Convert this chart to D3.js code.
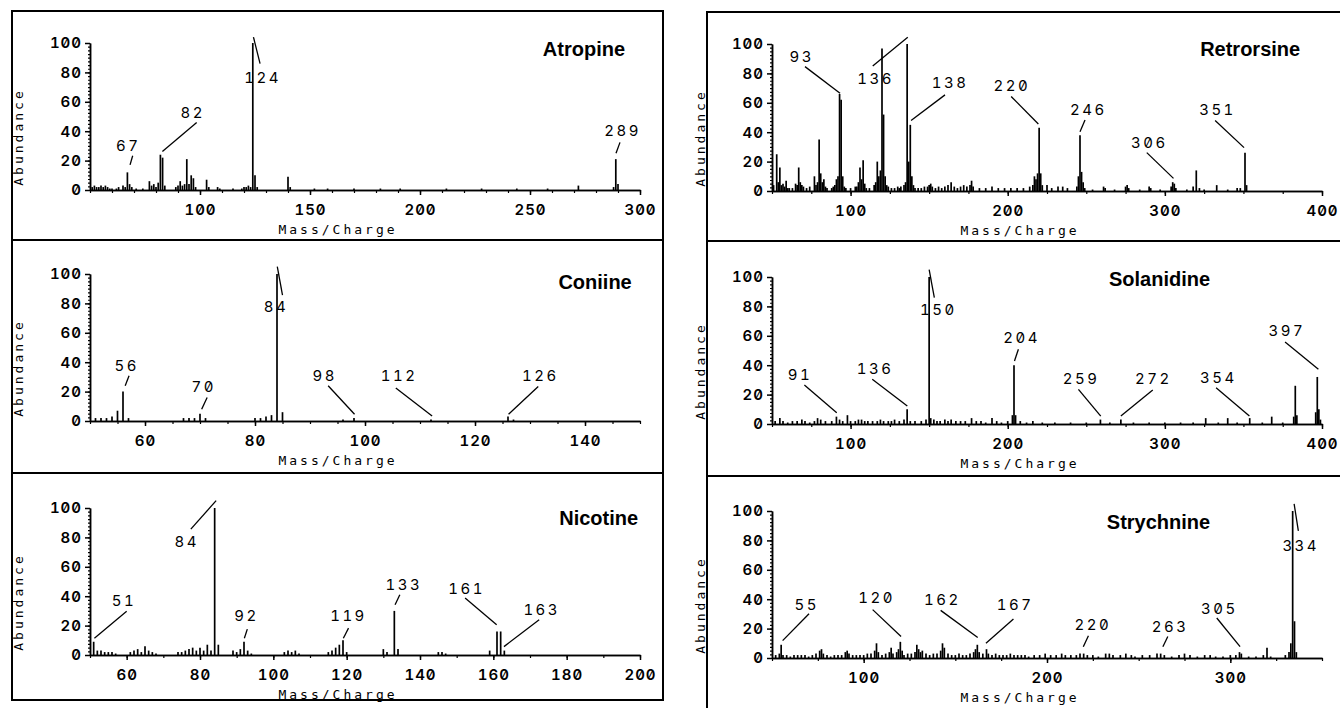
<!DOCTYPE html>
<html>
<head>
<meta charset="utf-8">
<script src="https://cdn.jsdelivr.net/npm/d3@7"></script>
<style>
  body { margin: 0; background: #fff; }
  svg { display: block; }
  .axis path, .axis line { stroke: #000; stroke-width: 1.5; }
  .axis text { font-family: Inter, "DejaVu Sans Mono", monospace; font-weight: 600; font-size: 15px; fill: #000;
               font-feature-settings: "zero" 1, "tnum" 1; letter-spacing: 1px; }
  .minor text { display: none; }
  .minor line { stroke-width: 1.2; }
  .peak { stroke: #000; stroke-width: 1.7; }
  .lead { stroke: #000; stroke-width: 1.3; fill: none; }
  .plab { font-family: Inter, "DejaVu Sans Mono", monospace; font-size: 15px; letter-spacing: 2.5px;
          font-feature-settings: "zero" 1, "tnum" 1; }
  .title { font-family: "Liberation Sans", Arial, sans-serif; font-weight: bold; font-size: 20px; }
  .alab { font-family: "DejaVu Sans Mono", monospace; font-size: 13px; letter-spacing: 3px; }
</style>
</head>
<body>
<svg width="1340" height="708"></svg>
<script>
// compound names, in panel order (left column then right column)
var names = ["Atropine", "Coniine", "Nicotine", "Retrorsine", "Solanidine", "Strychnine"];

// spectra: [m/z, relative abundance]
var atropine = [[51,2],[52,3],[53,2],[54,2],[55,3],[56,2],[57,3],[58,2],[59,1],[60,1],[62,1],[63,2],[65,3],[66,2],[67,12],[68,4],[69,2],[71,1],[74,1],[77,6],[78,3],[79,4],[80,2],[81,5],[82,24],[83,22],[84,3],[89,2],[90,3],[91,6],[92,3],[93,4],[94,21],[95,4],[96,10],[97,8],[98,2],[103,7],[104,2],[108,2],[109,1],[115,1],[119,1],[120,2],[121,2],[122,3],[123,2],[124,100],[125,10],[126,2],[140,9],[141,2],[152,1],[158,1],[170,1],[182,1],[191,1],[212,1],[228,1],[244,1],[258,1],[272,3],[288,2],[289,21],[290,4]];
var coniine = [[51,2],[52,2],[53,2],[54,3],[55,7],[56,20],[57,2],[67,2],[68,2],[69,2],[70,5],[71,2],[80,2],[81,2],[82,3],[83,4],[84,100],[85,6],[96,1],[98,2],[112,1],[126,3],[127,1]];
var nicotine = [[51,9],[52,3],[53,3],[54,2],[55,2],[56,2],[57,1],[61,2],[62,3],[63,4],[64,2],[65,6],[66,3],[67,2],[68,1],[74,2],[75,2],[76,3],[77,4],[78,5],[79,3],[80,5],[81,3],[82,7],[83,3],[84,100],[85,7],[89,3],[90,2],[91,4],[92,9],[93,3],[94,1],[103,2],[104,3],[105,2],[106,3],[107,1],[115,2],[116,3],[117,5],[118,7],[119,10],[120,2],[130,4],[131,2],[133,30],[134,4],[145,2],[146,2],[147,1],[159,3],[161,16],[162,16],[163,3]];
var retrorsine = [[51,4],[53,25],[54,6],[55,16],[56,4],[57,5],[58,3],[59,7],[60,2],[61,2],[63,2],[65,5],[66,4],[67,16],[68,6],[69,4],[70,3],[72,2],[74,3],[77,10],[78,4],[79,6],[80,35],[81,12],[82,6],[83,8],[84,3],[85,2],[88,2],[89,3],[90,4],[91,8],[92,10],[93,66],[94,62],[95,10],[96,3],[97,2],[100,2],[103,3],[104,3],[105,6],[106,16],[107,8],[108,21],[109,5],[110,2],[112,2],[115,4],[116,6],[117,20],[118,10],[119,14],[120,97],[121,52],[122,10],[123,4],[124,3],[126,2],[128,2],[130,3],[131,2],[132,3],[134,4],[135,6],[136,100],[137,20],[138,45],[139,10],[140,4],[141,2],[143,2],[145,2],[147,3],[149,3],[150,4],[151,5],[152,3],[154,2],[156,3],[158,2],[160,3],[162,4],[164,6],[166,3],[168,2],[170,3],[172,4],[174,3],[176,4],[177,7],[178,3],[182,2],[186,2],[190,3],[194,2],[198,2],[202,2],[206,2],[210,2],[214,3],[216,4],[217,10],[218,8],[219,12],[220,43],[221,12],[222,4],[225,4],[228,2],[232,3],[235,3],[238,2],[244,3],[245,10],[246,38],[247,13],[248,6],[249,2],[254,1],[261,3],[262,2],[268,1],[275,3],[276,4],[277,2],[284,1],[290,3],[291,2],[297,1],[304,3],[305,6],[306,5],[307,2],[314,1],[318,3],[320,14],[322,2],[325,1],[333,4],[340,1],[346,2],[348,2],[351,26],[352,4]];
var solanidine = [[52,2],[55,4],[57,2],[60,1],[63,2],[66,2],[69,3],[71,2],[74,1],[77,2],[79,4],[81,3],[84,2],[88,2],[91,5],[93,3],[95,2],[98,6],[100,2],[103,2],[105,3],[107,3],[109,2],[111,2],[114,2],[117,2],[119,3],[121,2],[124,2],[126,2],[128,3],[131,2],[134,3],[136,10],[138,2],[141,2],[145,2],[148,3],[150,100],[151,4],[153,3],[155,2],[157,2],[160,3],[162,2],[164,3],[167,2],[170,2],[173,2],[177,4],[180,2],[183,2],[186,1],[190,4],[193,2],[196,1],[200,2],[203,6],[204,40],[205,6],[208,2],[212,1],[216,2],[222,1],[230,1],[240,1],[250,1],[259,3],[265,1],[272,3],[280,1],[290,1],[300,1],[310,1],[318,1],[326,4],[334,1],[340,4],[346,1],[354,4],[362,1],[368,5],[375,1],[382,5],[383,26],[384,6],[396,8],[397,32],[398,10],[399,3]];
var strychnine = [[52,2],[54,3],[55,9],[56,2],[58,2],[60,1],[62,2],[64,2],[66,2],[68,2],[70,1],[72,2],[74,3],[76,5],[77,6],[78,3],[80,2],[82,1],[84,2],[86,2],[88,2],[90,4],[91,5],[92,3],[94,2],[96,2],[98,2],[100,2],[102,3],[104,3],[106,5],[107,10],[108,4],[110,2],[112,3],[114,4],[115,7],[116,3],[118,4],[119,6],[120,11],[121,5],[122,2],[124,3],[126,3],[128,4],[129,9],[130,6],[131,4],[132,5],[134,3],[136,2],[138,3],[140,3],[142,5],[143,10],[144,7],[146,3],[148,2],[150,2],[152,3],[154,2],[156,2],[158,3],[160,4],[161,6],[162,9],[163,4],[165,3],[167,6],[168,3],[170,2],[172,3],[174,2],[176,2],[178,2],[180,3],[182,2],[184,2],[186,2],[188,2],[190,1],[193,2],[196,2],[199,3],[202,2],[205,2],[208,3],[210,2],[213,2],[216,2],[218,3],[220,3],[222,2],[225,2],[228,1],[232,3],[234,3],[236,2],[240,2],[243,3],[246,2],[248,1],[252,2],[256,2],[260,3],[262,3],[264,2],[268,1],[272,2],[275,3],[278,2],[282,1],[286,2],[289,2],[292,1],[296,1],[300,2],[303,2],[305,4],[306,3],[310,1],[314,1],[318,2],[320,7],[322,1],[330,2],[332,4],[333,10],[334,100],[335,25],[336,4]];

// axis extents and tick labels
var xMax = [300, 150, 200, 400, 400, 350];
var xTicks = [[100,150,200,250,300], [60,80,100,120,140], [60,80,100,120,140,160,180,200], [100,200,300,400], [100,200,300,400], [100,200,300]];
var xMinorStep = [10, 5, 10, 25, 25, 25];
var yTicks = [0, 20, 40, 60, 80, 100];

// peak labels: [text, label x, label y, leader from x, y, to x, y] in m/z, abundance
var atropineLabels = [["67",67.4,26.2,69.4,23.3,68.2,17.1],["82",96.7,49,98.5,46,82.9,26.2],["124",128.5,73,127.3,86,124.3,104],["289",292.1,36.5,290.9,32.4,289.1,25]];
var coniineLabels = [["56",56.7,34.2,57.1,30.8,56.4,24],["70",70.7,19.4,71.3,16,70.3,8],["84",83.8,74,85,85.6,84.05,105],["98",92.7,27.4,93.3,24,98.1,4.6],["112",106.2,27,105.6,22.4,112.2,3.4],["126",131.9,27,131.5,23.5,126.1,4.6]];
var nicotineLabels = [["51",59.3,33.6,60,29.7,51.2,11.4],["84",76.4,73.8,77.5,85.6,84.4,105],["92",92.7,22.8,92.9,17.6,92.1,11.4],["119",120.5,22.8,120.5,18.3,119.1,11.4],["133",135.6,44.5,134.5,41,133.2,34.2],["161",152.7,41.8,152.3,38.8,160.9,20.5],["163",173.2,27.4,172.5,24,162.9,5.7]];
var retrorsineLabels = [["93",68.9,88,71,84.6,93.3,66.5],["136",116,72.6,114.1,85.1,136.4,104.6],["138",163.3,70,160.1,65.4,138.5,48],["220",202.6,67.8,202.2,64.3,219.5,45.6],["246",251.3,51.7,249.2,48.3,246,40.3],["306",290.2,29.1,288.5,26.1,305.5,8.6],["351",333.5,51.7,332,47.9,350.4,29.5]];
var solanidineLabels = [["91",67.8,29.9,70.6,26.5,91.2,7.7],["136",115.6,33.8,113.8,30.4,136.1,12.2],["150",155.9,74.1,153.3,85.9,150,105],["204",208.9,55.3,206.8,50.8,204.3,42.9],["259",246.7,27,245,23.6,259.2,5.4],["272",292.7,27,292.3,23.1,272,5.4],["354",334.1,28.1,332.6,24.7,353.8,5.4],["397",377.6,59.9,376.5,55.8,397.7,37.2]];
var strychnineLabels = [["55",68.9,32.9,70.2,30.1,55.8,11.8],["120",107.1,37.4,104.9,32.9,120.4,14.6],["162",142.9,36.3,142,32.4,162.2,13.9],["167",182.6,32.9,181.7,26.5,166.7,10],["220",225,19.2,222.6,15.1,219.8,7.7],["263",267.1,18,265.9,14.6,263.2,7.7],["305",294,30.1,292.6,27.2,305.3,7.7],["334",338.4,72.8,337.1,86.5,334.8,104.8]];

// where each compound name sits (right end, baseline), in m/z, abundance
var titleAt = [[293.2,91], [148.5,90], [199.5,88.4], [386.1,92], [328.8,94], [289,87.7]];

var spectra = [atropine, coniine, nicotine, retrorsine, solanidine, strychnine];
var peakLabels = [atropineLabels, coniineLabels, nicotineLabels, retrorsineLabels, solanidineLabels, strychnineLabels];

var svg = d3.select("svg");

// layout of the two framed columns
var colX = [90, 772], plotW = 550, plotH = 147;
var rowY = [[190, 421, 655], [191, 424, 658]];

// frames
svg.append("rect").attr("x", 12).attr("y", 11).attr("width", 651).attr("height", 689)
    .attr("fill", "none").attr("stroke", "#000").attr("stroke-width", 2);
svg.append("rect").attr("x", 707).attr("y", 12).attr("width", 660).attr("height", 710)
    .attr("fill", "none").attr("stroke", "#000").attr("stroke-width", 2);
[[12, 663, 240], [12, 663, 473], [707, 1340, 241], [707, 1340, 476]].forEach(function(d) {
  svg.append("line").attr("x1", d[0]).attr("x2", d[1]).attr("y1", d[2]).attr("y2", d[2])
      .attr("stroke", "#000").attr("stroke-width", 2);
});

names.forEach(function(name, i) {
  var col = i < 3 ? 0 : 1, row = i % 3;
  var x0 = colX[col], y0 = rowY[col][row];

  var x = d3.scaleLinear().domain([50, xMax[i]]).range([x0, x0 + plotW]);
  var y = d3.scaleLinear().domain([0, 100]).range([y0, y0 - plotH]);

  var g = svg.append("g");

  // minor ticks
  g.append("g").attr("class", "axis minor")
      .attr("transform", "translate(0," + y0 + ")")
      .call(d3.axisBottom(x).tickValues(d3.range(50, xMax[i] + 0.1, xMinorStep[i])).tickSize(3).tickSizeOuter(0));
  g.append("g").attr("class", "axis minor")
      .attr("transform", "translate(" + x0 + ",0)")
      .call(d3.axisLeft(y).tickValues(d3.range(0, 100.1, 2.5)).tickSize(2).tickSizeOuter(0));

  // major axes
  g.append("g").attr("class", "axis")
      .attr("transform", "translate(0," + y0 + ")")
      .call(d3.axisBottom(x).tickValues(xTicks[i]).tickSize(5).tickSizeOuter(0).tickPadding(9));
  g.append("g").attr("class", "axis")
      .attr("transform", "translate(" + x0 + ",0)")
      .call(d3.axisLeft(y).tickValues(yTicks).tickSize(5).tickSizeOuter(0).tickPadding(3));

  // peaks
  g.append("g").selectAll("line")
    .data(spectra[i])
    .enter().append("line")
      .attr("class", "peak")
      .attr("x1", function(d) { return x(d[0]); })
      .attr("x2", function(d) { return x(d[0]); })
      .attr("y1", y(0))
      .attr("y2", function(d) { return y(d[1]); });

  // peak labels with leader lines
  var lab = g.append("g").selectAll("g")
    .data(peakLabels[i])
    .enter().append("g");
  lab.append("line")
      .attr("class", "lead")
      .attr("x1", function(d) { return x(d[3]); })
      .attr("y1", function(d) { return y(d[4]); })
      .attr("x2", function(d) { return x(d[5]); })
      .attr("y2", function(d) { return y(d[6]); });
  lab.append("text")
      .attr("class", "plab")
      .attr("x", function(d) { return x(d[1]); })
      .attr("y", function(d) { return y(d[2]); })
      .attr("text-anchor", "middle")
      .text(function(d) { return d[0]; });

  // compound name
  g.append("text")
      .attr("class", "title")
      .attr("x", x(titleAt[i][0]))
      .attr("y", y(titleAt[i][1]))
      .attr("text-anchor", "end")
      .text(name);

  // axis titles
  g.append("text")
      .attr("class", "alab")
      .attr("transform", "translate(" + (x0 - 67) + "," + (y0 - 53) + ") rotate(-90)")
      .attr("text-anchor", "middle")
      .text("Abundance");
  g.append("text")
      .attr("class", "alab")
      .attr("x", x0 + plotW / 2 - 27)
      .attr("y", y0 + 44)
      .attr("text-anchor", "middle")
      .text("Mass/Charge");
});
</script>
</body>
</html>
